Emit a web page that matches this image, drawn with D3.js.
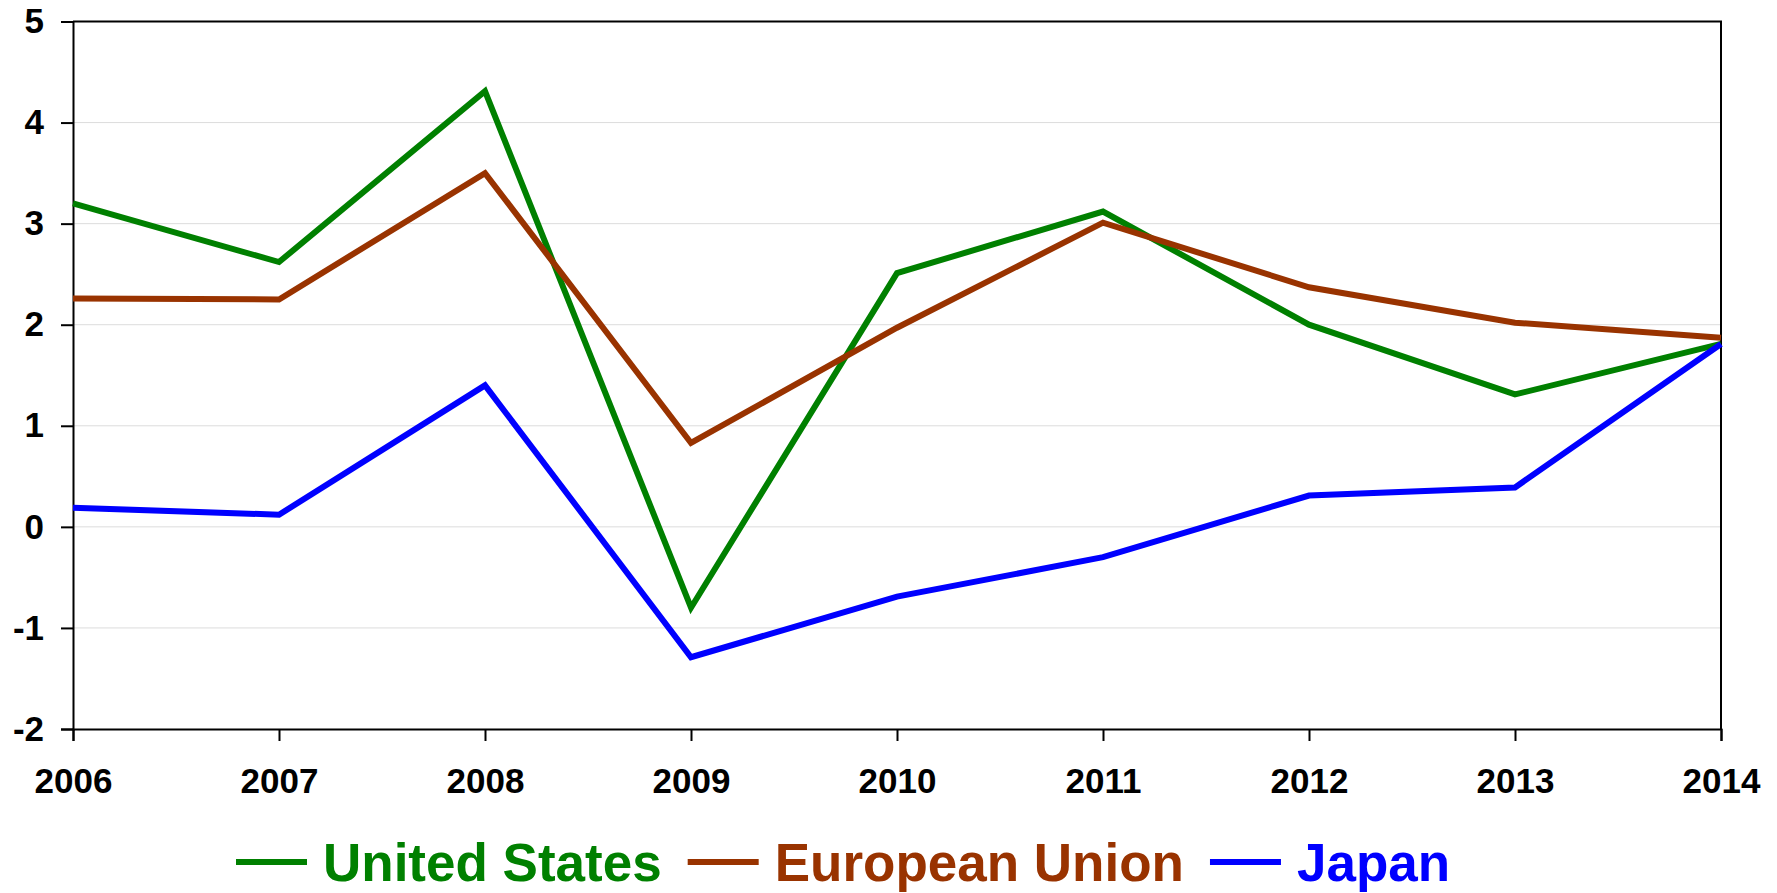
<!DOCTYPE html>
<html>
<head>
<meta charset="utf-8">
<script src="https://cdn.jsdelivr.net/npm/d3@7"></script>
<style>
  html, body { margin: 0; padding: 0; background: #fff; }
  svg { display: block; font-family: "Liberation Sans", Arial, sans-serif; font-weight: bold; }
</style>
</head>
<body>
<svg id="chart" width="1777" height="893"></svg>
<script>
// Annual values, 2006–2014
const years = [2006, 2007, 2008, 2009, 2010, 2011, 2012, 2013, 2014];
const unitedStates  = [3.20, 2.62, 4.31, -0.80, 2.51, 3.12, 2.00, 1.31, 1.81];
const europeanUnion = [2.26, 2.25, 3.50, 0.83, 1.97, 3.01, 2.37, 2.02, 1.87];
const japan         = [0.19, 0.12, 1.40, -1.29, -0.69, -0.30, 0.31, 0.39, 1.81];
const yTicks = [-2, -1, 0, 1, 2, 3, 4, 5];
const seriesNames = ["United States", "European Union", "Japan"];
const seriesColors = ["#008000", "#993300", "#0000ff"];

const series = [unitedStates, europeanUnion, japan].map((vals, i) => ({
  name: seriesNames[i], color: seriesColors[i],
  points: years.map((yr, j) => ({ year: yr, value: vals[j] }))
}));

const svg = d3.select("#chart");
const plotLeft = 73, plotRight = 1721, plotTop = 21.5, plotBottom = 729;

const x = d3.scaleLinear().domain([2006, 2014]).range([plotLeft, plotRight]);
const y = d3.scaleLinear().domain([-2, 5]).range([plotBottom, plotTop]);

// horizontal gridlines
svg.append("g")
  .selectAll("line")
  .data(yTicks.filter(t => t > -2 && t < 5))
  .join("line")
  .attr("x1", plotLeft).attr("x2", plotRight)
  .attr("y1", d => y(d)).attr("y2", d => y(d))
  .attr("stroke", "#dcdcdc").attr("stroke-width", 1);

// frame: top and right edges
svg.append("path")
  .attr("d", `M${plotLeft},${plotTop}H${plotRight}V${plotBottom}`)
  .attr("fill", "none").attr("stroke", "#000").attr("stroke-width", 2);

const labelFont = "'Liberation Sans', Arial, sans-serif";
const plainNumber = d => String(d);   // hyphen-minus for negatives

// y axis
const yAxis = svg.append("g")
  .attr("transform", `translate(${plotLeft},0)`)
  .call(d3.axisLeft(y).tickValues(yTicks).tickFormat(plainNumber).tickSize(12).tickPadding(17));
yAxis.select(".domain").attr("stroke-width", 2);
yAxis.selectAll(".tick line").attr("stroke-width", 2);
yAxis.selectAll(".tick text")
  .attr("font-size", 35).attr("font-weight", "bold").attr("fill", "#000")
  .attr("font-family", labelFont);

// x axis
const xAxis = svg.append("g")
  .attr("transform", `translate(0,${plotBottom})`)
  .call(d3.axisBottom(x).tickValues(years).tickFormat(plainNumber).tickSize(12).tickPadding(0));
xAxis.select(".domain").attr("stroke-width", 2);
xAxis.selectAll(".tick line").attr("stroke-width", 2);
xAxis.selectAll(".tick text")
  .attr("font-size", 35).attr("font-weight", "bold").attr("fill", "#000")
  .attr("font-family", labelFont)
  .attr("y", 64).attr("dy", null);

// series lines
const line = d3.line().x(d => x(d.year)).y(d => y(d.value));
svg.append("g")
  .selectAll("path")
  .data(series)
  .join("path")
  .attr("d", d => line(d.points))
  .attr("fill", "none")
  .attr("stroke", d => d.color)
  .attr("stroke-width", 6)
  .attr("stroke-linejoin", "miter");

// legend
const legend = svg.append("g");
let lx = 236;
const ly = 862;
series.forEach(s => {
  legend.append("line")
    .attr("x1", lx).attr("x2", lx + 71)
    .attr("y1", ly).attr("y2", ly)
    .attr("stroke", s.color).attr("stroke-width", 6);
  const t = legend.append("text")
    .attr("x", lx + 87).attr("y", 881)
    .attr("font-size", 53).attr("font-weight", "bold")
    .attr("fill", s.color)
    .text(s.name);
  lx = lx + 87 + t.node().getComputedTextLength() + 26;
});
</script>
</body>
</html>
